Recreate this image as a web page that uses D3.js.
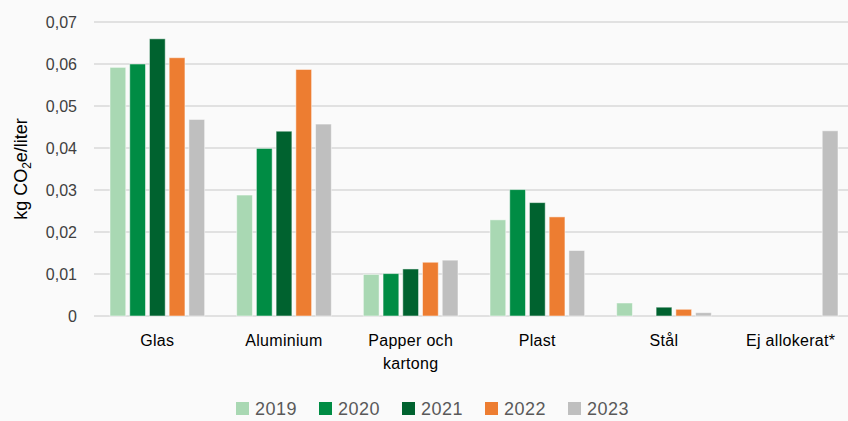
<!DOCTYPE html>
<html>
<head>
<meta charset="utf-8">
<script src="https://cdn.jsdelivr.net/npm/d3@7"></script>
<style>
  body { margin: 0; background: #fafafa; }
  svg { display: block; font-family: "Liberation Sans", Arial, sans-serif; }
</style>
</head>
<body>
<div id="chart"></div>
<script>
// data
var categories = ["Glas", "Aluminium", "Papper och kartong", "Plast", "Stål", "Ej allokerat*"];
var years = ["2019", "2020", "2021", "2022", "2023"];
var v2019 = [0.0592, 0.0288, 0.0099, 0.0229, 0.0031, 0];
var v2020 = [0.0600, 0.0399, 0.0101, 0.0301, 0, 0];
var v2021 = [0.0660, 0.0440, 0.0112, 0.0270, 0.0021, 0];
var v2022 = [0.0615, 0.0587, 0.0128, 0.0236, 0.0016, 0];
var v2023 = [0.0468, 0.0457, 0.0133, 0.0156, 0.0008, 0.0441];
var yTicks = [0, 0.01, 0.02, 0.03, 0.04, 0.05, 0.06, 0.07];
var colors = ["#a9d8b3", "#008c44", "#00622f", "#ed7d31", "#bfbfbf"];

var series = [v2019, v2020, v2021, v2022, v2023];

var width = 848, height = 421;
var margin = {left: 94, right: -6, top: 22, bottom: 105};

var svg = d3.select("#chart").append("svg")
  .attr("width", width)
  .attr("height", height);

var x0 = d3.scaleBand()
  .domain(categories)
  .range([margin.left, width - margin.right]);

var x1 = d3.scaleBand()
  .domain(years)
  .range([16, x0.bandwidth() - 16])
  .paddingInner(0.2);

var y = d3.scaleLinear()
  .domain([0, 0.07])
  .range([height - margin.bottom, margin.top]);

var fmt = function(d) { return d === 0 ? "0" : d3.format(".2f")(d).replace(".", ","); };

// gridlines
svg.append("g")
  .selectAll("line")
  .data(yTicks)
  .enter().append("line")
  .attr("x1", margin.left)
  .attr("x2", width)
  .attr("y1", function(d) { return y(d); })
  .attr("y2", function(d) { return y(d); })
  .attr("stroke", "#d9d9d9")
  .attr("stroke-width", 1.5);

// y tick labels
svg.append("g")
  .selectAll("text")
  .data(yTicks)
  .enter().append("text")
  .attr("x", 77)
  .attr("y", function(d) { return y(d); })
  .attr("dy", "0.35em")
  .attr("text-anchor", "end")
  .attr("font-size", "16px")
  .attr("fill", "#404040")
  .text(fmt);

// y axis title
var yt = svg.append("text")
  .attr("transform", "translate(27," + ((margin.top + height - margin.bottom) / 2) + ") rotate(-90)")
  .attr("text-anchor", "middle")
  .attr("font-size", "18px")
  .attr("fill", "#000");
yt.append("tspan").text("kg CO");
yt.append("tspan").attr("font-size", "12px").attr("dy", 4).text("2");
yt.append("tspan").attr("dy", -4).text("e/liter");

// bars
var groups = svg.append("g")
  .selectAll("g")
  .data(categories)
  .enter().append("g")
  .attr("transform", function(d) { return "translate(" + x0(d) + ",0)"; });

groups.selectAll("rect")
  .data(function(d, i) {
    return years.map(function(yr, j) { return {year: yr, value: series[j][i], k: j}; });
  })
  .enter().append("rect")
  .filter(function(d) { return d.value > 0; })
  .attr("x", function(d) { return x1(d.year); })
  .attr("width", x1.bandwidth())
  .attr("y", function(d) { return y(d.value); })
  .attr("height", function(d) { return y(0) - y(d.value); })
  .attr("fill", function(d) { return colors[d.k]; })
  .attr("stroke", "#ffffff")
  .attr("stroke-opacity", 0.5)
  .attr("stroke-width", 1);

// category labels
groups.append("text")
  .attr("x", x0.bandwidth() / 2)
  .attr("y", 346)
  .attr("text-anchor", "middle")
  .attr("font-size", "16px")
  .attr("letter-spacing", "0.3px")
  .attr("fill", "#000")
  .each(function(d) {
    var t = d3.select(this);
    if (d === "Papper och kartong") {
      t.append("tspan").attr("x", x0.bandwidth() / 2).text("Papper och");
      t.append("tspan").attr("x", x0.bandwidth() / 2).attr("dy", 23).text("kartong");
    } else {
      t.text(d);
    }
  });

// legend
var legend = svg.append("g")
  .selectAll("g")
  .data(years)
  .enter().append("g")
  .attr("transform", function(d, i) { return "translate(" + (236 + i * 83) + ",402)"; });

legend.append("rect")
  .attr("width", 13)
  .attr("height", 13)
  .attr("fill", function(d, i) { return colors[i]; });

legend.append("text")
  .attr("x", 19)
  .attr("y", 7)
  .attr("dy", "0.35em")
  .attr("font-size", "18px")
  .attr("letter-spacing", "0.5px")
  .attr("fill", "#595959")
  .text(function(d) { return d; });
</script>
</body>
</html>
